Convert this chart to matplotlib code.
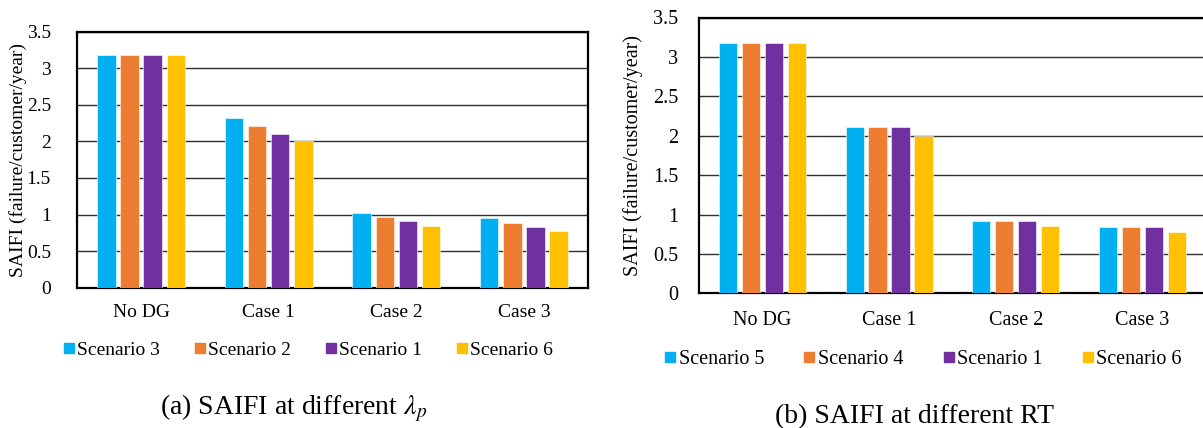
import matplotlib
matplotlib.use('Agg')
import matplotlib.pyplot as plt
from matplotlib.lines import Line2D
import numpy as np

plt.rcParams['font.family'] = 'Liberation Serif'
plt.rcParams['mathtext.fontset'] = 'stix'

# data
cases = ['No DG', 'Case 1', 'Case 2', 'Case 3']
colors = ['#00B0F0', '#ED7D31', '#7030A0', '#FFC000']

# (a) different lambda_p
labels_a = ['Scenario 3', 'Scenario 2', 'Scenario 1', 'Scenario 6']
scen3_a = [3.18, 2.32, 1.02, 0.95]
scen2_a = [3.18, 2.21, 0.96, 0.89]
scen1_a = [3.18, 2.10, 0.91, 0.83]
scen6_a = [3.18, 2.00, 0.85, 0.78]

# (b) different RT
labels_b = ['Scenario 5', 'Scenario 4', 'Scenario 1', 'Scenario 6']
scen5_b = [3.18, 2.11, 0.915, 0.84]
scen4_b = [3.18, 2.11, 0.915, 0.84]
scen1_b = [3.18, 2.11, 0.915, 0.84]
scen6_b = [3.18, 2.00, 0.855, 0.78]

yticks = [0, 0.5, 1, 1.5, 2, 2.5, 3, 3.5]
ytick_labels = ['0', '0.5', '1', '1.5', '2', '2.5', '3', '3.5']


def draw_panel(ax, series, labels, tick_pad, xpad, ylab_x, fs):
    x = np.arange(len(cases))
    pitch = 0.181
    width = 0.1436
    for j, vals in enumerate(series):
        ax.bar(x + (j - 1.5) * pitch, vals, width, color=colors[j],
               edgecolor='white', linewidth=0.4, label=labels[j], zorder=3)
    ax.set_xlim(-0.5, len(cases) - 0.5)
    ax.set_ylim(0, 3.5)
    ax.set_yticks(yticks)
    ax.set_yticklabels(ytick_labels)
    ax.set_xticks(x)
    ax.set_xticklabels(cases)
    ax.tick_params(axis='both', length=0, labelsize=fs)
    ax.tick_params(axis='y', pad=tick_pad)
    ax.tick_params(axis='x', pad=xpad)
    ax.yaxis.grid(True, color='#303030', linewidth=1.0)
    ax.set_axisbelow(True)
    for s in ax.spines.values():
        s.set_linewidth(1.6)
        s.set_color('black')
    ax.set_ylabel('SAIFI (failure/customer/year)', fontsize=fs)
    ax.yaxis.set_label_coords(ylab_x, 0.5)


fig = plt.figure(figsize=(12.03, 4.28), dpi=100)
ax1 = fig.add_axes([77.3 / 1203, 1 - 287.7 / 428, 510.4 / 1203, 256 / 428])
ax2 = fig.add_axes([699 / 1203, 1 - 293.3 / 428, 506.8 / 1203, 275.8 / 428])

draw_panel(ax1, [scen3_a, scen2_a, scen1_a, scen6_a], labels_a, 19, 12, -0.099, 14)
draw_panel(ax2, [scen5_b, scen4_b, scen1_b, scen6_b], labels_b, 15, 13, -0.11, 14.5)


def square_handles():
    return [Line2D([], [], marker='s', linestyle='none', markersize=7.5,
                   markerfacecolor=c, markeredgecolor=c) for c in colors]


fig.legend(square_handles(), labels_a, loc='center', bbox_to_anchor=(308 / 1203, 1 - 350 / 428),
           ncol=4, frameon=False, fontsize=14, handlelength=0.6, handletextpad=0.12,
           columnspacing=1.75)
fig.legend(square_handles(), labels_b, loc='center', bbox_to_anchor=(923 / 1203, 1 - 359 / 428),
           ncol=4, frameon=False, fontsize=14.5, handlelength=0.6, handletextpad=0.12,
           columnspacing=1.95)

fig.text(293.5 / 1203, 1 - 408 / 428, r'(a) SAIFI at different $\lambda_p$', ha='center', va='center', fontsize=20)
fig.text(914.5 / 1203, 1 - 416.7 / 428, '(b) SAIFI at different RT', ha='center', va='center', fontsize=20)

fig.savefig('out.png', dpi=100)
